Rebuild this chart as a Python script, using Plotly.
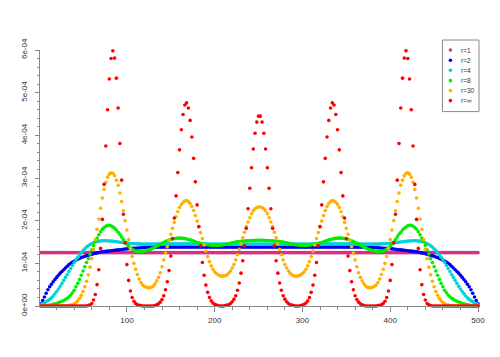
import plotly.graph_objects as go

# x positions (every second index)
x_vals = list(range(2, 501, 2))

# values in units of 1e-6
r1_vals = [125] * 250

r2_vals = [
    5, 13, 21, 30, 38, 45, 51, 57, 62, 67,
    72, 77, 81, 85, 89, 93, 97, 100, 103, 105,
    107.5, 109.5, 111.5, 113.5, 115, 116.5, 118, 119, 120, 121.5,
    122.5, 123.5, 124.5, 125.5, 126.5, 127, 127.5, 128, 128.5, 129,
    129.5, 130, 130.5, 131, 131.5, 132, 132.5, 133, 133.5, 134,
    134.5, 134.5, 135, 135, 135.5, 136, 136, 136.5, 136.5, 137,
    137, 137.5, 137.5, 137.5, 138, 138, 138, 138, 138, 138,
    138, 138, 138, 138, 138, 138, 138, 138, 138, 138,
    138, 138, 138, 138, 138, 138, 138, 138, 138, 138,
    138, 138, 138, 138, 138, 138, 138, 138, 138, 138,
    138, 138, 138, 138, 138, 138, 138, 138, 138, 138,
    138, 138, 138, 138, 138, 138, 138, 138, 138, 138,
    138, 138, 138, 138, 138,
    138, 138, 138, 138, 138,
    138, 138, 138, 138, 138, 138, 138, 138, 138, 138,
    138, 138, 138, 138, 138, 138, 138, 138, 138, 138,
    138, 138, 138, 138, 138, 138, 138, 138, 138, 138,
    138, 138, 138, 138, 138, 138, 138, 138, 138, 138,
    138, 138, 138, 138, 138, 138, 138, 138, 138, 138,
    138, 138, 138, 138, 138, 138, 137.5, 137.5, 137.5, 137,
    137, 136.5, 136.5, 136, 136, 135.5, 135, 135, 134.5, 134.5,
    134, 133.5, 133, 132.5, 132, 131.5, 131, 130.5, 130, 129.5,
    129, 128.5, 128, 127.5, 127, 126.5, 125.5, 124.5, 123.5, 122.5,
    121.5, 120, 119, 118, 116.5, 115, 113.5, 111.5, 109.5, 107.5,
    105, 103, 100, 97, 93, 89, 85, 81, 77, 72,
    67, 62, 57, 51, 45, 38, 30, 21, 13, 5,
]

r4_vals = [
    3, 5, 7, 10, 12.5, 15.5, 19, 23.5, 28.5, 34,
    40, 46, 53, 60, 67, 74, 81, 88, 95, 102,
    108, 114, 120, 125, 130, 134, 138, 141, 144, 146,
    148, 150, 151, 152, 152.5, 153, 153, 153, 153, 152.5,
    152, 151.5, 151, 150.5, 150, 149.5, 149, 148.5, 148, 147.5,
    147, 146.5, 146.5, 146, 146, 145.5, 145.5, 145, 145, 145,
    145, 145, 145, 145, 145, 145, 145, 145, 145, 145.5,
    145.5, 145.5, 145.5, 145.5, 145.5, 145.5, 145.5, 145.5, 145.5, 145.5,
    145.5, 145.5, 145.5, 145.5, 145.5, 145.5, 145.5, 145, 145, 145,
    145, 145, 145, 145, 145, 145, 145, 145, 145, 145,
    145, 145, 145, 145, 145, 145, 145, 145, 145, 145,
    145, 145, 145, 145, 145, 145, 145, 145, 145, 145,
    145, 145, 145, 145, 145,
    145, 145, 145, 145, 145,
    145, 145, 145, 145, 145, 145, 145, 145, 145, 145,
    145, 145, 145, 145, 145, 145, 145, 145, 145, 145,
    145, 145, 145, 145, 145, 145, 145, 145, 145, 145,
    145, 145, 145, 145.5, 145.5, 145.5, 145.5, 145.5, 145.5, 145.5,
    145.5, 145.5, 145.5, 145.5, 145.5, 145.5, 145.5, 145.5, 145.5, 145.5,
    145.5, 145, 145, 145, 145, 145, 145, 145, 145, 145,
    145, 145, 145, 145.5, 145.5, 146, 146, 146.5, 146.5, 147,
    147.5, 148, 148.5, 149, 149.5, 150, 150.5, 151, 151.5, 152,
    152.5, 153, 153, 153, 153, 152.5, 152, 151, 150, 148,
    146, 144, 141, 138, 134, 130, 125, 120, 114, 108,
    102, 95, 88, 81, 74, 67, 60, 53, 46, 40,
    34, 28.5, 23.5, 19, 15.5, 12.5, 10, 7, 5, 3,
]

r8_vals = [
    0.2, 0.3, 0.5, 0.8, 1.3, 2, 2.8, 3.8, 5, 6,
    8, 9.5, 11, 13, 15.5, 18, 21.5, 25.5, 31, 37,
    45, 53, 62, 72, 82, 92, 102, 111, 122, 132,
    142, 151, 159, 167, 174, 180, 184, 187, 189, 189,
    188, 185, 182, 178, 173, 168, 162, 156, 150, 145,
    140, 136, 133, 130.5, 129, 128, 127.5, 127.5, 128, 129,
    130, 131, 132.5, 134, 136, 138, 140, 142.5, 145, 147,
    149, 151, 153, 154.5, 156, 157, 158, 158.5, 159, 159,
    159, 158.5, 158, 157, 156, 155, 153.5, 152, 150.5, 149,
    148, 147, 146, 145, 144, 143.5, 143, 142.5, 142, 142,
    142, 142, 142.5, 143, 143.5, 144, 145, 146, 147, 148,
    149, 150, 150.5, 151, 151.5, 152, 152.5, 153, 153, 153.5,
    153.5, 153.5, 154, 154, 154,
    154, 154, 154, 153.5, 153.5,
    153.5, 153, 153, 152.5, 152, 151.5, 151, 150.5, 150, 149,
    148, 147, 146, 145, 144, 143.5, 143, 142.5, 142, 142,
    142, 142, 142.5, 143, 143.5, 144, 145, 146, 147, 148,
    149, 150.5, 152, 153.5, 155, 156, 157, 158, 158.5, 159,
    159, 159, 158.5, 158, 157, 156, 154.5, 153, 151, 149,
    147, 145, 142.5, 140, 138, 136, 134, 132.5, 131, 130,
    129, 128, 127.5, 127.5, 128, 129, 130.5, 133, 136, 140,
    145, 150, 156, 162, 168, 173, 178, 182, 185, 188,
    189, 189, 187, 184, 180, 174, 167, 159, 151, 142,
    132, 122, 111, 102, 92, 82, 72, 62, 53, 45,
    37, 31, 25.5, 21.5, 18, 15.5, 13, 11, 9.5, 8,
    6, 5, 3.8, 2.8, 2, 1.3, 0.8, 0.5, 0.3, 0.2,
]

r30_vals = [
    0, 0, 0, 0, 0, 0, 0, 0, 0, 0,
    0, 0, 0, 0, 0, 0.5, 1, 2, 3, 5,
    8, 12, 18, 25, 34, 45, 58, 73, 91, 111,
    133, 156, 180, 204, 229, 253, 273, 290, 302, 309,
    312, 311, 305, 295, 283, 265, 245, 223, 200, 178,
    156, 135, 116, 100, 86, 74, 63, 55, 49, 46,
    44, 43, 43, 44, 47, 52, 59, 67, 78, 92,
    108, 124, 139, 154, 168, 182, 196, 209, 221, 231,
    238, 243, 246, 247, 245, 240, 233, 224, 212, 199,
    186, 172, 158, 143, 129, 116, 104, 94, 86, 80,
    76, 73, 71, 70, 70, 71, 73, 77, 82, 89,
    97, 108, 120, 133, 146, 160, 173, 186, 197, 207,
    216, 223, 228, 231, 232,
    232, 231, 228, 223, 216,
    207, 197, 186, 173, 160, 146, 133, 120, 108, 97,
    89, 82, 77, 73, 71, 70, 70, 71, 73, 76,
    80, 86, 94, 104, 116, 129, 143, 158, 172, 186,
    199, 212, 224, 233, 240, 245, 247, 246, 243, 238,
    231, 221, 209, 196, 182, 168, 154, 139, 124, 108,
    92, 78, 67, 59, 52, 47, 44, 43, 43, 44,
    46, 49, 55, 63, 74, 86, 100, 116, 135, 156,
    178, 200, 223, 245, 265, 283, 295, 305, 311, 312,
    309, 302, 290, 273, 253, 229, 204, 180, 156, 133,
    111, 91, 73, 58, 45, 34, 25, 18, 12, 8,
    5, 3, 2, 1, 0.5, 0, 0, 0, 0, 0,
    0, 0, 0, 0, 0, 0, 0, 0, 0, 0,
]

rinf_vals = [
    0, 0, 0, 0, 0, 0, 0, 0, 0, 0,
    0, 0, 0, 0, 0, 0, 0, 0, 0, 0,
    0, 0, 0, 0, 0, 0, 0, 1, 3, 6,
    14, 27, 50, 85, 135, 203, 285, 375, 460, 532,
    580, 598, 581, 534, 464, 381, 295, 215, 148, 97,
    60, 35, 20, 11, 6, 3, 1.5, 1, 0, 0,
    0, 0, 0, 0, 0, 1, 3, 5, 9, 15,
    24, 38, 57, 83, 117, 158, 206, 258, 313, 366,
    413, 449, 471, 476, 464, 435, 396, 346, 291, 237,
    186, 141, 102, 72, 49, 32, 20, 12, 7, 4,
    2, 1, 0, 0, 0, 1, 2, 3, 6, 10,
    16, 24, 37, 54, 77, 106, 141, 182, 228, 276,
    324, 368, 405, 431, 445,
    445, 431, 405, 368, 324,
    276, 228, 182, 141, 106, 77, 54, 37, 24, 16,
    10, 6, 3, 2, 1, 0, 0, 0, 1, 2,
    4, 7, 12, 20, 32, 49, 72, 102, 141, 186,
    237, 291, 346, 396, 435, 464, 476, 471, 449, 413,
    366, 313, 258, 206, 158, 117, 83, 57, 38, 24,
    15, 9, 5, 3, 1, 0, 0, 0, 0, 0,
    0, 0, 1, 1.5, 3, 6, 11, 20, 35, 60,
    97, 148, 215, 295, 381, 464, 534, 581, 598, 580,
    532, 460, 375, 285, 203, 135, 85, 50, 27, 14,
    6, 3, 1, 0, 0, 0, 0, 0, 0, 0,
    0, 0, 0, 0, 0, 0, 0, 0, 0, 0,
    0, 0, 0, 0, 0, 0, 0, 0, 0, 0,
]

series_names = ["r=1", "r=2", "r=4", "r=8", "r=30", "r=\u221e"]
series_vals = [r1_vals, r2_vals, r4_vals, r8_vals, r30_vals, rinf_vals]
series_colors = ["#D2357F", "#0000F0", "#00D2D8", "#00EE00", "#FFB000", "#FF0000"]

for v in series_vals:
    assert len(v) == len(x_vals), len(v)

y_ticks = [0, 1e-4, 2e-4, 3e-4, 4e-4, 5e-4, 6e-4]
y_tick_text = ["0e+00", "1e-04", "2e-04", "3e-04", "4e-04", "5e-04", "6e-04"]
x_ticks = [100, 200, 300, 400, 500]

fig = go.Figure()
for name, vals, col in zip(series_names, series_vals, series_colors):
    fig.add_trace(go.Scatter(
        x=x_vals, y=[v * 1e-6 for v in vals], mode="markers", name=name,
        marker=dict(size=3.6, color=col, line=dict(width=0)),
        cliponaxis=False, showlegend=False,
    ))

# The page places the figure 8px in from the top-left corner of the window,
# so the figure is sized/margined to land the plot area where the reference has it.
OFF = 8
axis_col = "#8a8a8a"
fig.update_layout(
    width=500 - OFF, height=357 - OFF,
    margin=dict(l=40 - OFF, r=21.7, t=50 - OFF, b=50.5, pad=0),
    paper_bgcolor="white", plot_bgcolor="white",
    font=dict(family="Liberation Sans, Arial, sans-serif", size=8, color="#333333"),
    showlegend=False,
)
fig.update_xaxes(
    range=[1, 500], showgrid=False, zeroline=False,
    showline=True, linecolor=axis_col, linewidth=1,
    ticks="outside", ticklen=4.5, tickcolor=axis_col, tickwidth=1,
    tickmode="array", tickvals=x_ticks, ticktext=[str(t) for t in x_ticks],
    minor=dict(ticks="outside", ticklen=2.5, tickcolor=axis_col,
               tickvals=[t for t in range(20, 500, 20) if t % 100 != 0], showgrid=False),
    tickfont=dict(size=8, color="#333333"),
    ticklabelstandoff=2,
)
fig.update_yaxes(
    range=[0, 6e-4], showgrid=False, zeroline=False,
    showline=True, linecolor=axis_col, linewidth=1,
    ticks="outside", ticklen=4.5, tickcolor=axis_col, tickwidth=1,
    tickmode="array", tickvals=y_ticks, ticktext=y_tick_text, tickangle=-90,
    minor=dict(ticks="outside", ticklen=2.5, tickcolor=axis_col,
               tickvals=[k * 2e-5 for k in range(1, 30) if k % 5 != 0], showgrid=False),
    tickfont=dict(size=8, color="#333333"),
    ticklabelstandoff=4,
)

# legend box (drawn manually to match the compact layout); positions in page px
L, W, B, H = 40.0, 438.3, 306.5, 256.5
def px2x(p):
    return (p - L) / W
def py2y(p):
    return (B - p) / H

fig.add_shape(type="rect", xref="paper", yref="paper",
              x0=px2x(442.7), x1=px2x(479.3), y0=py2y(111.7), y1=py2y(40),
              line=dict(color="#8a8a8a", width=1), fillcolor="white")
row_y = [50, 60.3, 70.3, 80.7, 90.7, 100.7]
for name, col, yy in zip(series_names, series_colors, row_y):
    fig.add_shape(type="circle", xref="paper", yref="paper",
                  xsizemode="pixel", ysizemode="pixel",
                  xanchor=px2x(450.7), yanchor=py2y(yy),
                  x0=-1.8, x1=1.8, y0=-1.8, y1=1.8,
                  line=dict(width=0), fillcolor=col)
    fig.add_annotation(x=px2x(459.3), y=py2y(yy), xref="paper", yref="paper",
                       text=name, showarrow=False, xanchor="left", yanchor="middle",
                       font=dict(size=6.5, color="#333333"))

fig.write_html("out.html")
